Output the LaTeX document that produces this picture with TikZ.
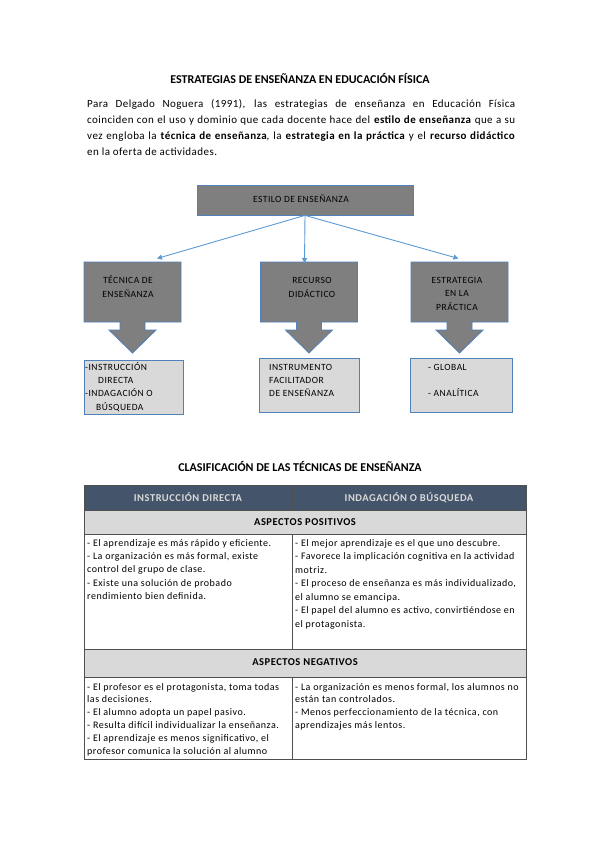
\documentclass[tikz,border=0pt]{standalone}
\usepackage{fontspec}
\setmainfont{Carlito}
\newfontfamily\spacedA[LetterSpace=5]{Carlito}
\newfontfamily\spacedB[LetterSpace=4]{Carlito}
\usetikzlibrary{arrows.meta}
\definecolor{boxblue}{RGB}{79,129,189}
\definecolor{arrblue}{RGB}{91,155,213}
\definecolor{midgray}{RGB}{127,127,127}
\definecolor{lightgr}{RGB}{217,217,217}
\definecolor{hdr}{RGB}{68,84,106}
\definecolor{tline}{RGB}{80,80,80}
\newcommand\mycallout[1]{%
  \draw[topshape] ({#1-48.5},262) -- ({#1+48.5},262) -- ({#1+48.5},322) -- ({#1+12.5},322) -- ({#1+12.5},330) -- ({#1+23.5},330) -- ({#1},353) -- ({#1-23.5},330) -- ({#1-12.5},330) -- ({#1-12.5},322) -- ({#1-48.5},322) -- cycle;}
\begin{document}
\begin{tikzpicture}[x=1pt,y=-1pt,
  topshape/.style={fill=midgray, draw=boxblue, line width=0.8pt},
  lowbox/.style={fill=lightgr, draw=boxblue, line width=0.8pt, inner sep=0pt},
  boxtext/.style={inner sep=0pt, font=\spacedA\fontsize{9.5}{13.3}\selectfont},
  conn/.style={draw=arrblue, line width=0.9pt, -{Triangle[length=5pt,width=5pt]}},
  titletext/.style={inner sep=0pt, anchor=base, font=\fontsize{12}{14}\selectfont\bfseries},
  headtext/.style={inner sep=0pt, anchor=base, font=\spacedA\fontsize{10.5}{12}\selectfont\bfseries},
  celltext/.style={inner sep=0pt, anchor=north west, align=left},
  tborder/.style={draw=tline, line width=0.6pt}
]
\path[use as bounding box, fill=white] (0,0) rectangle (599,848);

% title and paragraph
\node[titletext] (title) at (300,84) {ESTRATEGIAS DE ENSEÑANZA EN EDUCACIÓN FÍSICA};
\node[inner sep=0pt, anchor=north west, text width=428pt, align=justify,
  font=\spacedB\fontsize{11}{16}\selectfont] (para) at (87,96.3)
 {\strut Para Delgado Noguera (1991), las estrategias de enseñanza en Educación Física\linebreak
 coinciden con el uso y dominio que cada docente hace del \textbf{estilo de enseñanza} que a su\linebreak
 vez engloba la \textbf{técnica de enseñanza}, la \textbf{estrategia en la práctica} y el \textbf{recurso didáctico}\linebreak
 en la oferta de actividades.};

% diagram
\node[fill=midgray, draw=boxblue, line width=0.8pt, minimum width=216pt, minimum height=30pt, inner sep=0pt] (estilo) at (305,200) {};
\node[boxtext, anchor=base] (estilot) at (301,202.5) {ESTILO DE ENSEÑANZA};

\mycallout{132.5}
\mycallout{309}
\mycallout{459.5}
\node[boxtext, anchor=north, align=center, font=\spacedA\fontsize{9.5}{14}\selectfont] (tecnica) at (128,273.2) {\strut TÉCNICA DE\\ENSEÑANZA};
\node[boxtext, anchor=north, align=center, font=\spacedA\fontsize{9.5}{14}\selectfont] (recurso) at (312,273.2) {\strut RECURSO\\DIDÁCTICO};
\node[boxtext, anchor=north, align=center, font=\spacedA\fontsize{9.5}{13.5}\selectfont] (estrat) at (457,273.5) {\strut ESTRATEGIA\\EN LA\\PRÁCTICA};

\coordinate (tL) at (157,258.5);
\coordinate (tC) at (304.5,263);
\coordinate (tR) at (458.5,258.5);
\draw[conn] (estilo.south) -- (tL);
\draw[conn] (estilo.south) -- (tC);
\draw[conn] (estilo.south) -- (tR);

\node[lowbox, minimum width=99pt, minimum height=54pt] (low1) at (133.5,387) {};
\node[lowbox, minimum width=100pt, minimum height=54pt] (low2) at (309,385) {};
\node[lowbox, minimum width=102pt, minimum height=54pt] (low3) at (461,385) {};
\node[boxtext, anchor=north west, align=left] (low1t) at (85,360.7) {\strut -INSTRUCCIÓN\\\hspace*{13pt}DIRECTA\\-INDAGACIÓN O\\\hspace*{11pt}BÚSQUEDA};
\node[boxtext, anchor=north west, align=left] (low2t) at (269,360.7) {\strut INSTRUMENTO\\FACILITADOR\\DE ENSEÑANZA};
\node[boxtext, anchor=north west, align=left] (low3t) at (428,360.7) {\strut - GLOBAL\\[13.3pt]- ANALÍTICA};

% table
\node[titletext] (title2) at (300,471) {CLASIFICACIÓN DE LAS TÉCNICAS DE ENSEÑANZA};
\fill[hdr] (84,485) rectangle (526,510);
\fill[lightgr] (84,510) rectangle (526,534);
\fill[lightgr] (84,649) rectangle (526,677);
\draw[tborder] (84,510) -- (526,510);
\draw[tborder] (84,534) -- (526,534);
\draw[tborder] (84,649) -- (526,649);
\draw[tborder] (84,677) -- (526,677);
\draw[tborder] (292,485) -- (292,510);
\draw[tborder] (292,534) -- (292,649);
\draw[tborder] (292,677) -- (292,759);
\draw[draw=tline, line width=1pt] (84,485) rectangle (526,759);

\node[headtext, text=lightgr] (h1) at (188,501) {INSTRUCCIÓN DIRECTA};
\node[headtext, text=lightgr] (h2) at (409,501) {INDAGACIÓN O BÚSQUEDA};
\node[headtext] (pos) at (305,525.5) {ASPECTOS POSITIVOS};
\node[headtext] (neg) at (305,665.5) {ASPECTOS NEGATIVOS};

\node[celltext, font=\spacedA\fontsize{10}{13.4}\selectfont] (p1) at (87,536.6) {\strut - El aprendizaje es más rápido y eficiente.\\- La organización es más formal, existe\\control del grupo de clase.\\- Existe una solución de probado\\rendimiento bien definida.};
\node[celltext, font=\spacedA\fontsize{10}{13.5}\selectfont] (p2) at (295,536.6) {\strut - El mejor aprendizaje es el que uno descubre.\\- Favorece la implicación cognitiva en la actividad\\motriz.\\- El proceso de enseñanza es más individualizado,\\el alumno se emancipa.\\- El papel del alumno es activo, convirtiéndose en\\el protagonista.};
\node[celltext, font=\spacedA\fontsize{10}{12.8}\selectfont] (n1) at (87,681) {\strut - El profesor es el protagonista, toma todas\\las decisiones.\\- El alumno adopta un papel pasivo.\\- Resulta difícil individualizar la enseñanza.\\- El aprendizaje es menos significativo, el\\profesor comunica la solución al alumno};
\node[celltext, font=\spacedA\fontsize{10}{12.8}\selectfont] (n2) at (295,681) {\strut - La organización es menos formal, los alumnos no\\están tan controlados.\\- Menos perfeccionamiento de la técnica, con\\aprendizajes más lentos.};
\end{tikzpicture}
\end{document}
